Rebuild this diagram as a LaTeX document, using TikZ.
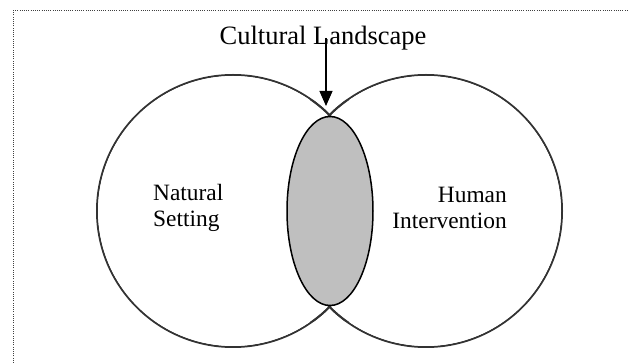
\documentclass[tikz,border=0pt]{standalone}
\usepackage{fontspec}
\setmainfont{Liberation Serif}
\usetikzlibrary{shapes.geometric,arrows.meta}
\begin{document}
\begin{tikzpicture}[x=1pt, y=-1pt,
		setting/.style={circle, draw=black!80, line width=2pt, minimum size=272pt, inner sep=0pt},
		cover/.style={circle, fill=white, minimum size=270pt, inner sep=0pt},
		lens/.style={ellipse, draw=black, fill=black!25, line width=1.5pt, minimum width=86pt, minimum height=189pt, inner sep=0pt},
		lbl/.style={inner sep=0pt, font=\fontsize{23.4}{26.5}\selectfont}]
	\useasboundingbox (0, 0) rectangle (630, 363);
	\draw[line width=1pt, black!75, dash pattern=on 1pt off 1.2pt] (13, 363) -- (13, 11) -- (628, 11);

	\node[setting] (nat) at (233, 211) {};
	\node[setting] (hum) at (426, 211) {};
	\node[cover] at (nat) {};
	\node[cover] at (hum) {};
	% crossing of the two outlines at the tips
	\begin{scope}
		\clip (310, 100) rectangle (350, 118) (310, 304) rectangle (350, 322);
		\draw[black!80, line width=2pt] (nat) circle [radius=136];
		\draw[black!80, line width=2pt] (hum) circle [radius=136];
	\end{scope}
	\node[lens] (cl) at (330, 211) {};

	\node[lbl, align=left, anchor=west] (natlbl) at (153, 208) {Natural\\Setting};
	\node[lbl, align=right, anchor=east] (humlbl) at (507, 208) {Human\\Intervention};
	\node[inner sep=0pt, anchor=base, font=\fontsize{26.5}{30}\selectfont] (title) at (323, 45) {Cultural Landscape};

	\coordinate (top) at (326, 106);
	\draw[line width=1.2pt, -{Triangle[length=15pt, width=13pt]}] (326, 38) -- (top);
\end{tikzpicture}
\end{document}
